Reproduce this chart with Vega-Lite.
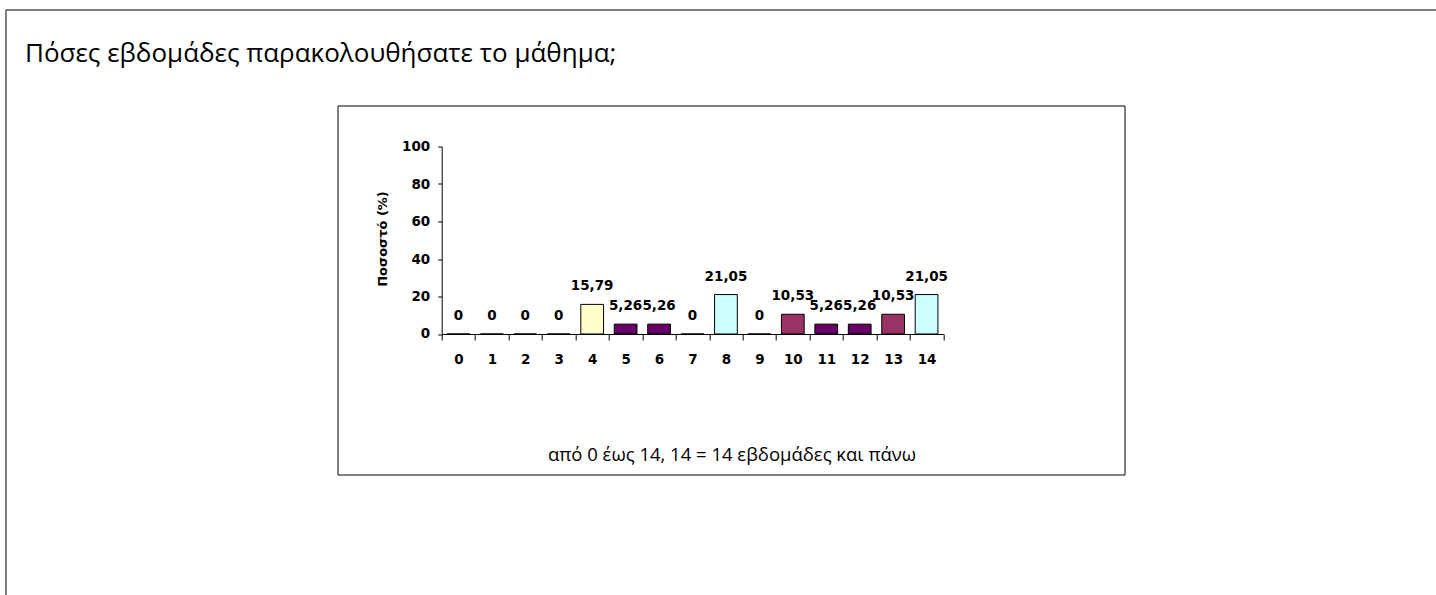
{
  "$schema": "https://vega.github.io/schema/vega-lite/v6.json",
  "width": 501.6,
  "height": 187.5,
  "autosize": {"type": "none"},
  "padding": {"left": 441.7, "top": 146.5, "right": 496, "bottom": 266},
  "background": "white",
  "config": {
    "view": {"stroke": null},
    "locale": {"number": {"decimal": ",", "thousands": ".", "grouping": [3], "currency": ["", " €"]}}
  },
  "title": {
    "text": "Πόσες εβδομάδες παρακολουθήσατε το μάθημα;",
    "anchor": "start", "frame": "group", "orient": "top", "offset": 0,
    "baseline": "alphabetic", "dx": -416.7, "dy": 78.7,
    "font": "Open Sans", "fontSize": 26, "fontWeight": "normal", "color": "black"
  },
  "data": {"values": [
    {"week": 0, "pct": 0},
    {"week": 1, "pct": 0},
    {"week": 2, "pct": 0},
    {"week": 3, "pct": 0},
    {"week": 4, "pct": 15.79},
    {"week": 5, "pct": 5.26},
    {"week": 6, "pct": 5.26},
    {"week": 7, "pct": 0},
    {"week": 8, "pct": 21.05},
    {"week": 9, "pct": 0},
    {"week": 10, "pct": 10.53},
    {"week": 11, "pct": 5.26},
    {"week": 12, "pct": 5.26},
    {"week": 13, "pct": 10.53},
    {"week": 14, "pct": 21.05}
  ]},
  "resolve": {"axis": {"x": "independent", "y": "independent"}},
  "layer": [
    {
      "mark": {"type": "bar", "width": {"band": 0.68}, "stroke": "black", "strokeWidth": 1},
      "encoding": {
        "x": {
          "field": "week", "type": "ordinal",
          "scale": {"paddingInner": 0, "paddingOuter": 0},
          "axis": {
            "orient": "bottom", "domain": true, "domainColor": "black", "domainWidth": 1,
            "grid": false,
            "tickBand": "extent", "tickSize": 6, "tickColor": "black", "tickWidth": 1,
            "labelAngle": 0, "labelFont": "DejaVu Sans", "labelFontWeight": "bold",
            "labelFontSize": 13.5, "labelColor": "black", "labelPadding": 13,
            "title": "από 0 έως 14, 14 = 14 εβδομάδες και πάνω",
            "titleFont": "Open Sans", "titleFontSize": 18.5, "titleFontWeight": "normal",
            "titleColor": "black", "titleX": 289.8, "titleY": 127,
            "titleBaseline": "alphabetic", "titleAlign": "center"
          }
        },
        "y": {
          "field": "pct", "type": "quantitative",
          "scale": {"domain": [0, 100], "nice": false, "zero": false},
          "axis": {
            "orient": "left",
            "values": [0, 20, 40, 60, 80, 100],
            "domain": true, "domainColor": "black", "domainWidth": 1, "grid": false,
            "tickSize": 4, "tickColor": "black", "tickWidth": 1,
            "labelFont": "DejaVu Sans", "labelFontWeight": "bold", "labelFontSize": 13.5,
            "labelColor": "black", "labelPadding": 8, "labelOverlap": false, "labelFlush": false,
            "title": "Ποσοστό (%)", "titleFont": "DejaVu Sans", "titleFontSize": 13,
            "titleFontWeight": "bold", "titleColor": "black",
            "titleX": -59, "titleY": 92, "titleAngle": -90,
            "titleBaseline": "middle", "titleAlign": "center"
          }
        },
        "color": {
          "field": "pct", "type": "nominal",
          "scale": {"domain": [0, 5.26, 10.53, 15.79, 21.05],
                    "range": ["#ffffff", "#660066", "#993366", "#FFFFCC", "#CCFFFF"]},
          "legend": null
        }
      }
    },
    {
      "data": {"values": [{}]},
      "mark": {"type": "rect", "fillOpacity": 0, "stroke": "black", "strokeWidth": 1},
      "encoding": {
        "x": {"datum": 0, "type": "ordinal", "bandPosition": -13.03, "axis": null},
        "x2": {"datum": 14, "bandPosition": 15.85},
        "y": {"datum": 172.8, "type": "quantitative", "axis": null},
        "y2": {"datum": -141.9}
      }
    },
    {
      "data": {"values": [{}]},
      "mark": {"type": "rect", "fillOpacity": 0, "stroke": "black", "strokeWidth": 1},
      "encoding": {
        "x": {"datum": 0, "type": "ordinal", "bandPosition": -3.101, "axis": null},
        "x2": {"datum": 14, "bandPosition": 6.434},
        "y": {"datum": 121.6, "type": "quantitative", "axis": null},
        "y2": {"datum": -75.2}
      }
    },
    {
      "mark": {"type": "text", "font": "DejaVu Sans", "fontWeight": "bold", "fontSize": 13.5,
               "baseline": "alphabetic", "dy": -14, "color": "black"},
      "encoding": {
        "x": {"field": "week", "type": "ordinal", "axis": null},
        "y": {"field": "pct", "type": "quantitative", "axis": null},
        "text": {"field": "pct", "type": "quantitative", "format": ".2~f"}
      }
    }
  ]
}
